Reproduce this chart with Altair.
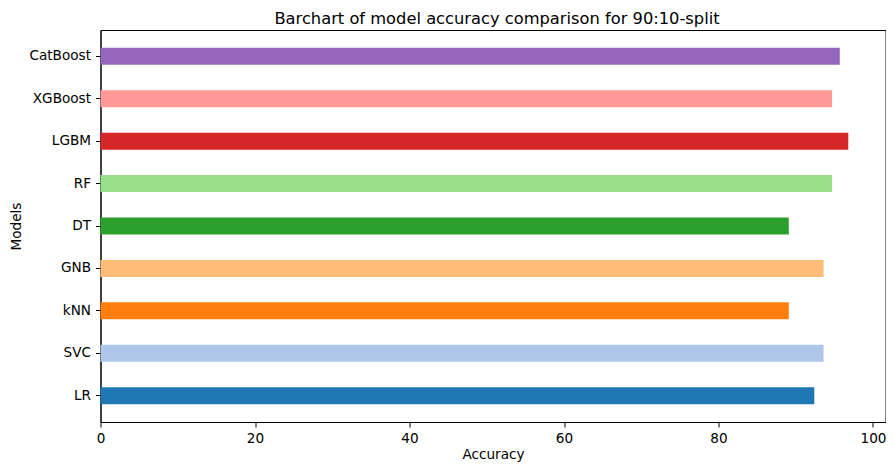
import altair as alt
import pandas as pd

models = ["LR", "SVC", "kNN", "GNB", "DT", "RF", "LGBM", "XGBoost", "CatBoost"]
accuracy = [92.4, 93.6, 89.1, 93.6, 89.1, 94.7, 96.8, 94.7, 95.7]
colors = ["#1f77b4", "#aec7e8", "#ff7f0e", "#ffbb78", "#2ca02c",
          "#98df8a", "#d62728", "#ff9896", "#9467bd"]
x_ticks = [0, 20, 40, 60, 80, 100]

df = pd.DataFrame({"Models": models, "Accuracy": accuracy})
font = "DejaVu Sans"

plot_w = 785
px_per_unit = 7.725
x_max = plot_w / px_per_unit

chart = alt.Chart(df).mark_bar().encode(
    x=alt.X("Accuracy:Q",
            scale=alt.Scale(domain=[0, x_max], nice=False, zero=True),
            axis=alt.Axis(values=x_ticks, title="Accuracy", grid=False,
                          tickSize=5, tickColor="black", domainColor="black",
                          labelColor="black", labelFontSize=13.6, labelFont=font,
                          titleFont=font, titleFontSize=13.6, titleFontWeight="normal",
                          titleColor="black", titlePadding=3, labelPadding=4,
                          labelFlush=False)),
    y=alt.Y("Models:N", sort=models[::-1],
            scale=alt.Scale(paddingInner=0.6, paddingOuter=0.42),
            axis=alt.Axis(title="Models", grid=False, tickSize=5, tickColor="black",
                          domainColor="black", labelColor="black", labelFontSize=13.6,
                          labelFont=font, titleFont=font, titleFontSize=13.6,
                          titleFontWeight="normal", titleColor="black",
                          titlePadding=5, labelPadding=5)),
    color=alt.Color("Models:N", scale=alt.Scale(domain=models, range=colors), legend=None),
).properties(
    width=plot_w,
    height=392,
    title=alt.TitleParams("Barchart of model accuracy comparison for 90:10-split",
                          font=font, fontSize=16.3, fontWeight="normal", color="black",
                          anchor="middle", offset=2.5, dx=4),
    autosize=alt.AutoSizeParams(type="none"),
    padding={"left": 92.5, "top": 22, "right": 0.5, "bottom": 40},
).configure_view(stroke="black", strokeWidth=1)

chart.save("out.html", embed_options={"renderer": "svg", "actions": False})
